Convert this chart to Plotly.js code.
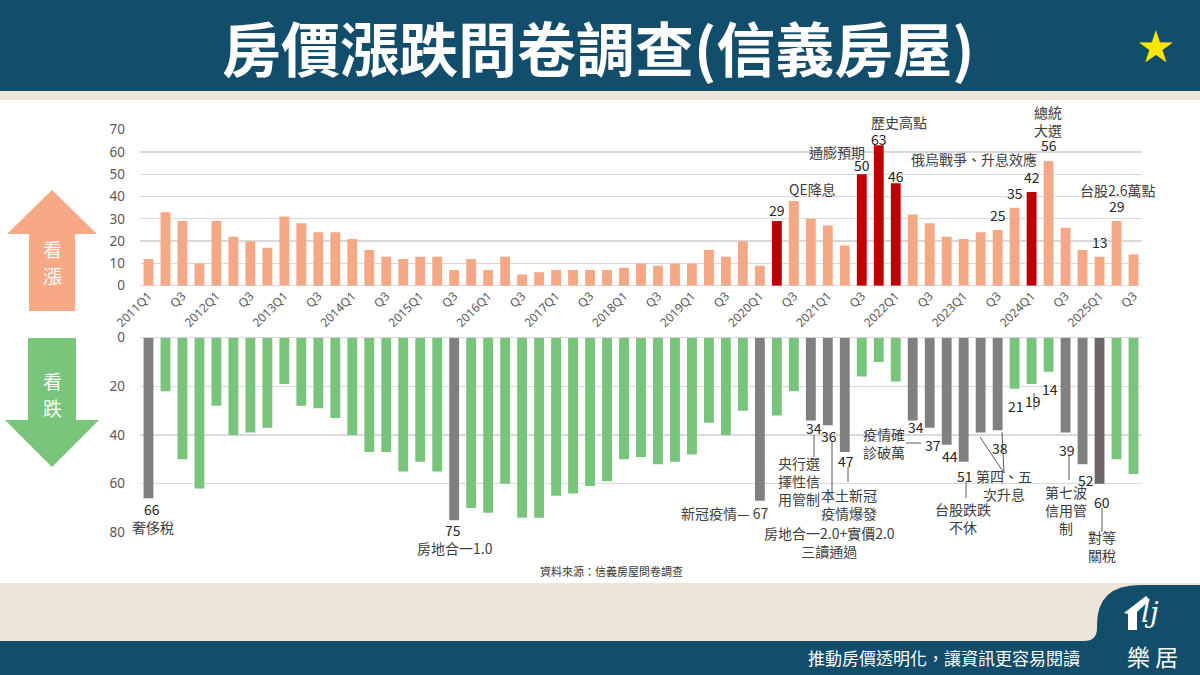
<!DOCTYPE html>
<html>
<head>
<meta charset="utf-8">
<script src="https://cdn.plot.ly/plotly-3.0.1.min.js"></script>
<style>
  html, body { margin: 0; padding: 0; background: #fff; }
  #plot { width: 1200px; height: 675px; }
</style>
</head>
<body>
<div id="plot"></div>
<script>
// quarters 2011Q1 - 2025Q3
var quarters = [
  '2011Q1','2011Q2','2011Q3','2011Q4','2012Q1','2012Q2','2012Q3','2012Q4',
  '2013Q1','2013Q2','2013Q3','2013Q4','2014Q1','2014Q2','2014Q3','2014Q4',
  '2015Q1','2015Q2','2015Q3','2015Q4','2016Q1','2016Q2','2016Q3','2016Q4',
  '2017Q1','2017Q2','2017Q3','2017Q4','2018Q1','2018Q2','2018Q3','2018Q4',
  '2019Q1','2019Q2','2019Q3','2019Q4','2020Q1','2020Q2','2020Q3','2020Q4',
  '2021Q1','2021Q2','2021Q3','2021Q4','2022Q1','2022Q2','2022Q3','2022Q4',
  '2023Q1','2023Q2','2023Q3','2023Q4','2024Q1','2024Q2','2024Q3','2024Q4',
  '2025Q1','2025Q2','2025Q3'
];

var tickText = [
  '2011Q1','Q3','2012Q1','Q3','2013Q1','Q3','2014Q1','Q3','2015Q1','Q3',
  '2016Q1','Q3','2017Q1','Q3','2018Q1','Q3','2019Q1','Q3','2020Q1','Q3',
  '2021Q1','Q3','2022Q1','Q3','2023Q1','Q3','2024Q1','Q3','2025Q1','Q3'
];

// 看漲 (%)
var upValues = [
  12,33,29,10, 29,22,20,17, 31,28,24,24, 21,16,13,12,
  13,13,7,12,  7,13,5,6,    7,7,7,7,     8,10,9,10,
  10,16,13,20, 9,29,38,30,  27,18,50,63, 46,32,28,22,
  21,24,25,35, 42,56,26,16, 13,29,14
];

// 看跌 (%)
var downValues = [
  66,22,50,62, 28,40,39,37, 19,28,29,33, 40,47,47,55,
  51,55,75,70, 72,60,74,74, 65,64,61,59, 50,49,52,51,
  48,35,40,30, 67,32,22,34, 36,47,16,10, 18,34,37,44,
  51,39,38,21, 19,14,39,52, 60,50,56
];

var upHighlight = ['2020Q2','2021Q3','2021Q4','2022Q1','2024Q1'];
var downEvent = ['2011Q1','2015Q3','2020Q1','2020Q4','2021Q1','2021Q2','2022Q2','2022Q3',
                 '2022Q4','2023Q1','2023Q2','2023Q3','2024Q3','2024Q4'];
var downDark = ['2025Q1'];

// ---- helpers (pixel -> paper) ----
var W = 1200, H = 675;
function px(x) { return x / W; }
function py(y) { return 1 - y / H; }
function path(pts) {
  return pts.map(function(p, i) {
    return (i === 0 ? 'M' : 'L') + px(p[0]).toFixed(5) + ',' + py(p[1]).toFixed(5);
  }).join(' ') + ' Z';
}

var NAVY = '#124E6B', BEIGE = '#EDE6D8';
var SALMON = '#F5A886', RED = '#C00000', GREEN = '#78C47B', GRAY = '#808080', DARK = '#6E6767';
var CJK = 'Noto Sans CJK TC';

var upColors = quarters.map(function(q) { return upHighlight.indexOf(q) >= 0 ? RED : SALMON; });
var downColors = quarters.map(function(q) {
  if (downDark.indexOf(q) >= 0) return DARK;
  return downEvent.indexOf(q) >= 0 ? GRAY : GREEN;
});

var traceUp = {
  type: 'bar', x: quarters, y: upValues, xaxis: 'x', yaxis: 'y',
  marker: { color: upColors }, cliponaxis: false, hoverinfo: 'skip'
};
var traceDown = {
  type: 'bar', x: quarters, y: downValues, xaxis: 'x2', yaxis: 'y2',
  marker: { color: downColors }, cliponaxis: false, hoverinfo: 'skip'
};

// ---- annotations ----
var annotations = [];
function paperText(text, x, y, opts) {
  opts = opts || {};
  annotations.push({
    xref: 'paper', yref: 'paper', x: px(x), y: py(y), text: text, showarrow: false,
    xanchor: opts.xanchor || 'center', yanchor: 'middle', align: 'center',
    font: { family: opts.family || CJK, size: opts.size || 14, color: opts.color || '#404040',
            weight: opts.weight || 400 }
  });
}

// value labels above 看漲 bars (dy = px above bar top)
var upLabels = [
  { q: '2020Q2', dy: 11 }, { q: '2021Q3', dy: 9 }, { q: '2021Q4', dy: 6 }, { q: '2022Q1', dy: 7 },
  { q: '2023Q3', dy: 15 }, { q: '2023Q4', dy: 15 }, { q: '2024Q1', dy: 15 }, { q: '2024Q2', dy: 16 },
  { q: '2025Q1', dy: 15 }, { q: '2025Q2', dy: 15 }
];
upLabels.forEach(function(l) {
  var v = upValues[quarters.indexOf(l.q)];
  annotations.push({
    xref: 'x', yref: 'y', x: l.q, y: v, yshift: l.dy, text: String(v), showarrow: false,
    xanchor: 'center', yanchor: 'middle',
    font: { family: CJK, size: 14, color: '#262626' }
  });
});

// value labels below 看跌 bars (dx, dy in px)
var downLabels = [
  { q: '2011Q1', dx: 4, dy: 11 }, { q: '2015Q3', dx: -1, dy: 10 },
  { q: '2020Q4', dx: 3, dy: 8 }, { q: '2021Q1', dx: 1, dy: 11 }, { q: '2021Q2', dx: 1, dy: 9 },
  { q: '2022Q2', dx: 3, dy: 7 }, { q: '2022Q3', dx: 3, dy: 17 }, { q: '2022Q4', dx: 3, dy: 11 },
  { q: '2023Q1', dx: 1, dy: 14 }, { q: '2023Q3', dx: 2, dy: 18 }, { q: '2023Q4', dx: 1, dy: 17 },
  { q: '2024Q1', dx: 1, dy: 17 }, { q: '2024Q2', dx: 1, dy: 17 }, { q: '2024Q3', dx: 1, dy: 17 },
  { q: '2024Q4', dx: 3, dy: 16 }, { q: '2025Q1', dx: 2, dy: 18 }
];
downLabels.forEach(function(l) {
  var v = downValues[quarters.indexOf(l.q)];
  annotations.push({
    xref: 'x2', yref: 'y2', x: l.q, y: v, xshift: l.dx, yshift: -l.dy, text: String(v), showarrow: false,
    xanchor: 'center', yanchor: 'middle',
    font: { family: CJK, size: 14, color: '#262626' }
  });
});
// 新冠疫情 label sits left of its value
(function() {
  var v = downValues[quarters.indexOf('2020Q1')];
  annotations.push({
    xref: 'x2', yref: 'y2', x: '2020Q1', y: v, xshift: 10, yshift: -12,
    text: '新冠疫情— ' + v, showarrow: false, xanchor: 'right', yanchor: 'middle',
    font: { family: CJK, size: 14, color: '#404040' }
  });
})();

// event notes
paperText('QE降息', 812, 189);
paperText('通膨預期', 837, 152);
paperText('歷史高點', 899, 122);
paperText('俄烏戰爭、升息效應', 974, 159);
paperText('總統<br>大選', 1048, 121);
paperText('台股2.6萬點', 1117, 190);

paperText('奢侈稅', 153, 527);
paperText('房地合一1.0', 455, 548);
paperText('房地合一2.0+實價2.0<br>三讀通過', 829, 542);
paperText('央行選<br>擇性信<br>用管制', 799, 481);
paperText('本土新冠<br>疫情爆發', 849, 504);
paperText('疫情確<br>診破萬', 884, 443);
paperText('台股跌跌<br>不休', 963, 518);
paperText('第四、五<br>次升息', 1004, 485);
paperText('第七波<br>信用管<br>制', 1066, 510);
paperText('對等<br>關稅', 1102, 546);

paperText('資料來源：信義房屋問卷調查', 611, 571, { size: 11, color: '#3A3A3A' });

// header / footer / arrows text
paperText('房價漲跌問卷調查(信義房屋)', 598, 46, { size: 59, color: '#FFFFFF', weight: 700 });
paperText('★', 1155, 46, { size: 44, color: '#FFE600', family: 'DejaVu Sans' });
paperText('看', 52, 248, { size: 19, color: '#FFFFFF' });
paperText('漲', 52, 275, { size: 19, color: '#FFFFFF' });
paperText('看', 52, 380, { size: 19, color: '#FFFFFF' });
paperText('跌', 52, 407, { size: 19, color: '#FFFFFF' });
paperText('推動房價透明化，讓資訊更容易閱讀', 944, 657, { size: 17, color: '#FFFFFF' });
paperText('樂 居', 1152, 656, { size: 23, color: '#FFFFFF' });
paperText('<i>lj</i>', 1150, 612, { size: 28, color: '#FFFFFF', family: 'DejaVu Serif' });

// ---- shapes ----
var shapes = [
  { type: 'rect', xref: 'paper', yref: 'paper', x0: 0, x1: 1, y0: py(91), y1: 1, fillcolor: NAVY, line: { width: 0 }, layer: 'below' },
  { type: 'rect', xref: 'paper', yref: 'paper', x0: 0, x1: 1, y0: py(100), y1: py(91), fillcolor: BEIGE, line: { width: 0 }, layer: 'below' },
  { type: 'rect', xref: 'paper', yref: 'paper', x0: 0, x1: 1, y0: py(641), y1: py(583), fillcolor: BEIGE, line: { width: 0 }, layer: 'below' },
  { type: 'rect', xref: 'paper', yref: 'paper', x0: 0, x1: 1, y0: 0, y1: py(641), fillcolor: NAVY, line: { width: 0 }, layer: 'below' },
  { type: 'path', xref: 'paper', yref: 'paper', layer: 'below', fillcolor: NAVY, line: { width: 0 },
    path: 'M' + px(1084) + ',' + py(641) + ' Q' + px(1097) + ',' + py(641) + ' ' + px(1097) + ',' + py(628) +
          ' L' + px(1097) + ',' + py(625) + ' Q' + px(1097) + ',' + py(585) + ' ' + px(1140) + ',' + py(585) +
          ' L1,' + py(585) + ' L1,' + py(641) + ' Z' },
  // logo roof
  { type: 'path', xref: 'paper', yref: 'paper', fillcolor: '#FFFFFF', line: { width: 0 },
    path: path([[1124, 613], [1146, 596], [1150, 600], [1137, 612], [1137, 630], [1128, 630], [1128, 614]]) },
  // arrows
  { type: 'path', xref: 'paper', yref: 'paper', fillcolor: '#F7A985', line: { width: 0 }, layer: 'below',
    path: path([[52, 190], [97, 234], [75, 234], [75, 311], [29, 311], [29, 234], [7, 234]]) },
  { type: 'path', xref: 'paper', yref: 'paper', fillcolor: '#79C57B', line: { width: 0 }, layer: 'below',
    path: path([[28, 338], [76, 338], [76, 420], [99, 420], [52, 467], [5, 420], [28, 420]]) }
];

// leader lines for the notes
var leaders = [
  [814, 435, 814, 457], [832, 441, 832, 498], [848, 467, 848, 482], [906, 443, 921, 443],
  [966, 482, 966, 498], [980, 437, 1004, 473], [1002, 432, 1004, 473], [1034, 393, 1034, 410],
  [1069, 456, 1069, 480], [1102, 508, 1102, 532]
];
leaders.forEach(function(l) {
  shapes.push({ type: 'line', xref: 'paper', yref: 'paper', x0: px(l[0]), y0: py(l[1]), x1: px(l[2]), y1: py(l[3]),
                line: { color: '#595959', width: 1 } });
});

var tickFont = { family: 'Noto Sans', size: 13.5, color: '#595959' };
var layout = {
  width: 1200, height: 675,
  margin: { l: 0, r: 0, t: 0, b: 0 },
  paper_bgcolor: '#FFFFFF', plot_bgcolor: 'rgba(0,0,0,0)',
  showlegend: false, bargap: 0.42,
  xaxis: {
    domain: [px(140), px(1142)], anchor: 'y', type: 'category', range: [-0.5, 58.5],
    tickmode: 'array',
    tickvals: quarters.filter(function(q, i) { return i % 2 === 0; }),
    ticktext: tickText, tickangle: -45,
    tickfont: { family: 'Noto Sans', size: 12, color: '#595959' },
    showgrid: false, showline: false, zeroline: false, ticks: ''
  },
  yaxis: {
    domain: [py(285.7), py(129.7)], anchor: 'x', range: [0, 70], dtick: 10,
    gridcolor: '#D9D9D9', gridwidth: 1.3, zeroline: true, zerolinecolor: '#D9D9D9', zerolinewidth: 1.3,
    showline: false, tickfont: tickFont, ticklabelstandoff: 14
  },
  xaxis2: {
    domain: [px(140), px(1142)], anchor: 'y2', type: 'category', range: [-0.5, 58.5],
    showticklabels: false, showgrid: false, showline: false, zeroline: false, ticks: ''
  },
  yaxis2: {
    domain: [py(532.3), py(337.7)], anchor: 'x2', range: [80, 0], dtick: 20,
    gridcolor: '#D9D9D9', gridwidth: 1.3, zeroline: true, zerolinecolor: '#D9D9D9', zerolinewidth: 1.3,
    showline: false, tickfont: tickFont, ticklabelstandoff: 14
  },
  annotations: annotations,
  shapes: shapes
};

Plotly.newPlot('plot', [traceUp, traceDown], layout, { staticPlot: true, displayModeBar: false });
</script>
</body>
</html>
